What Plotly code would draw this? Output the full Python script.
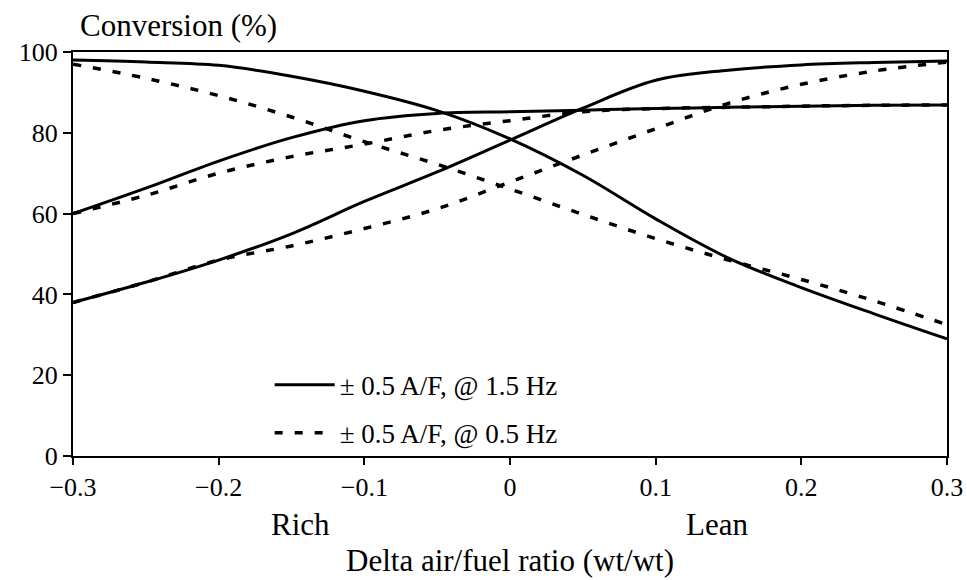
import plotly.graph_objects as go

# Data
delta_af = [-0.30, -0.25, -0.20, -0.15, -0.10, -0.05, 0.00, 0.05, 0.10, 0.15, 0.20, 0.25, 0.30]

# +/-0.5 A/F @ 1.5 Hz (solid)
dec_15 = [98, 97.5, 96.7, 94, 90.3, 85.5, 78.5, 69.5, 58.7, 49, 41.7, 35.2, 29]
flat_15 = [60, 66.3, 73, 78.8, 83, 84.8, 85.2, 85.6, 86, 86.3, 86.6, 86.8, 86.9]
inc_15 = [38, 43, 48.5, 55, 63, 70.3, 78.2, 86.1, 93, 95.5, 96.8, 97.4, 97.8]

# +/-0.5 A/F @ 0.5 Hz (dashed)
dec_05 = [97, 93.5, 89.2, 83.9, 77.8, 72.2, 66.1, 59.8, 53.8, 48.5, 43.7, 38.4, 32.5]
flat_05 = [60, 64.5, 70, 74.1, 77.2, 80.6, 83, 85.2, 86, 86.3, 86.6, 86.8, 86.9]
inc_05 = [38, 43, 48.5, 52, 56.3, 61.2, 67.8, 74.5, 81, 87.3, 92, 95.3, 97.5]

x_ticks = [-0.3, -0.2, -0.1, 0, 0.1, 0.2, 0.3]
x_tick_text = ["\u22120.3", "\u22120.2", "\u22120.1", "0", "0.1", "0.2", "0.3"]
y_ticks = [0, 20, 40, 60, 80, 100]

legend_15 = "\u00b1 0.5 A/F, @ 1.5 Hz"
legend_05 = "\u00b1 0.5 A/F, @ 0.5 Hz"

FONT = "Liberation Serif, Times New Roman, serif"

fig = go.Figure()

dash_line = dict(color="black", width=3.5, dash="8px,12px")
solid_line = dict(color="black", width=3)

for i, ys in enumerate([dec_15, flat_15, inc_15]):
    fig.add_trace(go.Scatter(
        x=delta_af, y=ys, mode="lines", line=solid_line, line_shape="spline",
        name=legend_15, legendgroup="g15", showlegend=(i == 0),
    ))
for i, ys in enumerate([dec_05, flat_05, inc_05]):
    fig.add_trace(go.Scatter(
        x=delta_af, y=ys, mode="lines", line=dash_line, line_shape="spline",
        name=legend_05, legendgroup="g05", showlegend=(i == 0),
    ))

fig.update_layout(
    width=967, height=580,
    margin=dict(l=73, r=20, t=52, b=124, autoexpand=False),
    paper_bgcolor="white", plot_bgcolor="white",
    font=dict(family=FONT, color="black", size=26),
    showlegend=True,
    legend=dict(
        x=0.225, y=0.236, xanchor="left", yanchor="top",
        bgcolor="rgba(0,0,0,0)", font=dict(size=27, family=FONT),
        tracegroupgap=10, itemwidth=60, traceorder="grouped",
    ),
    xaxis=dict(
        range=[-0.3, 0.3], tickvals=x_ticks, ticktext=x_tick_text,
        showgrid=False, zeroline=False, automargin=False,
        showline=True, linecolor="black", linewidth=2, mirror=True,
        ticks="outside", ticklen=7, tickwidth=1.5, tickcolor="black",
        tickfont=dict(size=26, family=FONT),
        title=dict(text="Delta air/fuel ratio (wt/wt)", font=dict(size=31, family=FONT), standoff=48),
    ),
    yaxis=dict(
        range=[0, 100], tickvals=y_ticks, automargin=False,
        showgrid=False, zeroline=False,
        showline=True, linecolor="black", linewidth=2, mirror=True,
        ticks="outside", ticklen=8, tickwidth=1.5, tickcolor="black",
        tickfont=dict(size=26, family=FONT),
    ),
    annotations=[
        dict(text="Conversion (%)", xref="paper", yref="paper", x=0, y=1,
             xanchor="left", yanchor="middle", xshift=5, yshift=27,
             showarrow=False, font=dict(size=31, family=FONT)),
        dict(text="Rich", xref="x", yref="paper", x=-0.144, y=0,
             xanchor="center", yanchor="middle", yshift=-68,
             showarrow=False, font=dict(size=31, family=FONT)),
        dict(text="Lean", xref="x", yref="paper", x=0.142, y=0,
             xanchor="center", yanchor="middle", yshift=-68,
             showarrow=False, font=dict(size=31, family=FONT)),
    ],
)

fig.write_html("out.html")
